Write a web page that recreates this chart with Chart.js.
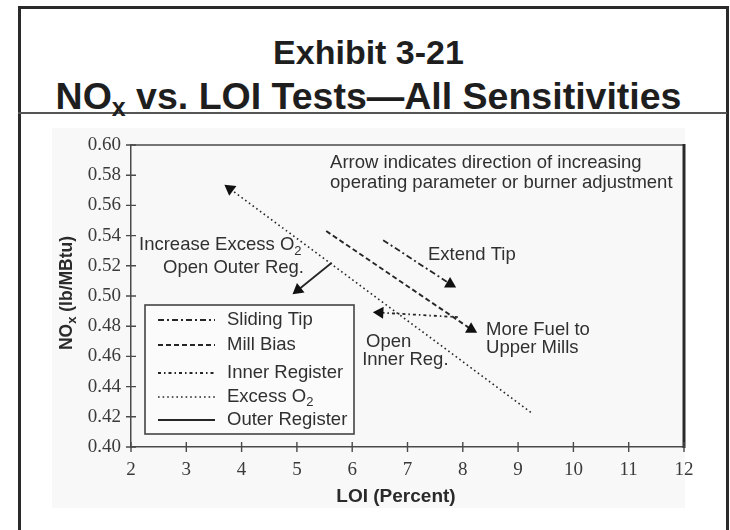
<!DOCTYPE html>
<html>
<head>
<meta charset="utf-8">
<script src="https://cdn.jsdelivr.net/npm/chart.js@4.4.1/dist/chart.umd.min.js"></script>
<style>
  body { margin: 0; background: #fff; }
  #page { position: relative; width: 730px; height: 530px; overflow: hidden; }
  #frame { position: absolute; left: 18px; top: 6px; width: 705px; height: 560px; border: 3px solid #2a2a2a; border-bottom: none; }
  #rule { position: absolute; left: 18px; top: 112px; width: 709px; height: 0; border-top: 2px solid #555; }
  .head { position: absolute; left: 14px; width: 709px; text-align: center; font-family: "Liberation Sans", Arial, sans-serif; font-weight: bold; color: #1e1e1e; white-space: nowrap; }
  #t1 { top: 33px; font-size: 34px; line-height: 38px; }
  #t2 { top: 75px; font-size: 37.5px; line-height: 42px; }
  #t2 sub { font-size: 25px; vertical-align: -7px; line-height: 0; }
  #chart { position: absolute; left: 0; top: 0; }
</style>
</head>
<body>
<div id="page">
  <div id="frame"></div>
  <div id="rule"></div>
  <div class="head" id="t1">Exhibit 3-21</div>
  <div class="head" id="t2">NO<sub>x</sub> vs. LOI Tests—All Sensitivities</div>
  <canvas id="chart" width="730" height="530"></canvas>
</div>
<script>
// LOI (%) and NOx (lb/MBtu) for each sensitivity; the last point carries the arrowhead
var seriesNames = ['Sliding Tip', 'Mill Bias', 'Inner Register', 'Excess O_2', 'Outer Register'];

var slidingTipLoi = [6.56, 7.77];
var slidingTipNox = [0.537, 0.508];

var millBiasLoi = [5.53, 8.15];
var millBiasNox = [0.543, 0.478];

var innerRegLoi = [7.91, 6.50];
var innerRegNox = [0.486, 0.489];

var excessO2Loi = [9.23, 3.79];
var excessO2Nox = [0.423, 0.571];

var outerRegLoi = [5.63, 5.02];
var outerRegNox = [0.522, 0.504];

var xTicks = [2, 3, 4, 5, 6, 7, 8, 9, 10, 11, 12];
var yTicks = [0.40, 0.42, 0.44, 0.46, 0.48, 0.50, 0.52, 0.54, 0.56, 0.58, 0.60];

// text written on the plot, anchored in data units (left edge, middle)
var noteText = ['Arrow indicates direction of increasing', 'operating parameter or burner adjustment',
  'Increase Excess O_2', 'Open Outer Reg.', 'Extend Tip', 'More Fuel to', 'Upper Mills', 'Open', 'Inner Reg.'];
var noteLoi = [5.60, 5.60, 2.145, 2.58, 7.37, 8.42, 8.42, 6.25, 6.18];
var noteNox = [0.588, 0.5752, 0.5336, 0.5189, 0.5269, 0.4777, 0.4658, 0.4698, 0.4578];

function pts(xs, ys) {
  return xs.map(function (x, i) { return { x: x, y: ys[i] }; });
}

var INK = '#262626';
var SANS = '"Liberation Sans", Arial, sans-serif';
var SERIF = '"Liberation Serif", "Times New Roman", serif';

function line(name, data, dash, rot, width) {
  return {
    label: name,
    data: data,
    showLine: true,
    borderColor: INK,
    borderWidth: width,
    borderDash: dash,
    backgroundColor: INK,
    pointRadius: [0, 7],
    pointStyle: 'triangle',
    rotation: [0, rot],
    pointBorderWidth: 0,
    pointBackgroundColor: '#111'
  };
}

// draws "Excess O_2" style text: the char after '_' becomes a subscript
function drawSub(ctx, text, x, y, size, bold) {
  var w = bold ? 'bold ' : '';
  var parts = text.split('_');
  ctx.textBaseline = 'middle';
  ctx.textAlign = 'left';
  var cx = x;
  parts.forEach(function (p, i) {
    if (i > 0) {
      ctx.font = w + Math.round(size * 0.72) + 'px ' + SANS;
      ctx.fillText(p.charAt(0), cx, y + size * 0.32);
      cx += ctx.measureText(p.charAt(0)).width;
      p = p.slice(1);
    }
    ctx.font = w + size + 'px ' + SANS;
    ctx.fillText(p, cx, y);
    cx += ctx.measureText(p).width;
  });
  return cx - x;
}

var decor = {
  id: 'decor',
  beforeDraw: function (chart) {
    var ctx = chart.ctx;
    ctx.save();
    ctx.fillStyle = '#f8f8f8';
    ctx.fillRect(52, 128, 633, 380);
    ctx.restore();
  },
  afterDraw: function (chart) {
    var ctx = chart.ctx, a = chart.chartArea;
    var xs = chart.scales.x, ys = chart.scales.y;
    ctx.save();
    ctx.strokeStyle = '#4a4a4a';
    ctx.lineWidth = 1.5;
    // top edge and heavy right edge of the plot box
    ctx.beginPath();
    ctx.moveTo(a.left, a.top); ctx.lineTo(a.right, a.top);
    ctx.stroke();
    ctx.strokeStyle = '#2a2a2a';
    ctx.lineWidth = 3;
    ctx.beginPath();
    ctx.moveTo(a.right, a.top - 1); ctx.lineTo(a.right, a.bottom + 1);
    ctx.stroke();
    // ticks crossing the axes
    ctx.strokeStyle = '#4a4a4a';
    ctx.lineWidth = 1.4;
    ctx.beginPath();
    xTicks.forEach(function (v) {
      var px = xs.getPixelForValue(v);
      ctx.moveTo(px, a.bottom - 5); ctx.lineTo(px, a.bottom + 5);
    });
    yTicks.forEach(function (v) {
      var py = ys.getPixelForValue(v);
      ctx.moveTo(a.left - 5, py); ctx.lineTo(a.left + 5, py);
    });
    ctx.stroke();

    // notes
    ctx.fillStyle = '#303030';
    noteText.forEach(function (t, i) {
      drawSub(ctx, t, xs.getPixelForValue(noteLoi[i]), ys.getPixelForValue(noteNox[i]), 18.5, false);
    });

    // legend box in the lower left of the plot
    var lx = 145, ly = 305, lw = 209, lh = 129;
    ctx.fillStyle = '#fbfbfb';
    ctx.fillRect(lx, ly, lw, lh);
    ctx.strokeStyle = '#444';
    ctx.lineWidth = 1.6;
    ctx.strokeRect(lx, ly, lw, lh);
    var rowY = [320, 345, 373, 397, 420];
    chart.data.datasets.forEach(function (ds, i) {
      ctx.strokeStyle = INK;
      ctx.lineWidth = ds.borderWidth;
      ctx.setLineDash(ds.borderDash || []);
      ctx.beginPath();
      ctx.moveTo(158, rowY[i]); ctx.lineTo(215, rowY[i]);
      ctx.stroke();
      ctx.setLineDash([]);
      ctx.fillStyle = '#303030';
      drawSub(ctx, ds.label, 227, rowY[i], 18.5, false);
    });

    // axis titles
    ctx.fillStyle = '#2a2a2a';
    ctx.font = 'bold 19px ' + SANS;
    ctx.textAlign = 'center';
    ctx.textBaseline = 'middle';
    ctx.fillText('LOI (Percent)', 396, 497);
    ctx.translate(67, (a.top + a.bottom) / 2 - 3);
    ctx.rotate(-Math.PI / 2);
    var tw;
    ctx.font = 'bold 17.5px ' + SANS;
    tw = ctx.measureText('NO').width + ctx.measureText(' (lb/MBtu)').width;
    ctx.font = 'bold 13px ' + SANS;
    tw += ctx.measureText('x').width;
    drawSub(ctx, 'NO_x (lb/MBtu)', -tw / 2, 0, 17.5, true);
    ctx.restore();
  }
};

new Chart(document.getElementById('chart'), {
  type: 'scatter',
  data: {
    datasets: [
      line(seriesNames[0], pts(slidingTipLoi, slidingTipNox), [6, 3, 2, 3], 0, 1.8),
      line(seriesNames[1], pts(millBiasLoi, millBiasNox), [5, 3], 0, 1.9),
      line(seriesNames[2], pts(innerRegLoi, innerRegNox), [3, 3, 1.5, 3], -87, 1.8),
      line(seriesNames[3], pts(excessO2Loi, excessO2Nox), [1.6, 3], -53.5, 1.6),
      line(seriesNames[4], pts(outerRegLoi, outerRegNox), [], -128.5, 1.8)
    ]
  },
  options: {
    responsive: false,
    animation: false,
    layout: { padding: { top: 145, right: 46, left: 0, bottom: 0 } },
    plugins: { legend: { display: false }, tooltip: { enabled: false } },
    scales: {
      x: {
        type: 'linear', min: 2, max: 12,
        afterFit: function (s) { s.height = 83; },
        afterBuildTicks: function (s) { s.ticks = xTicks.map(function (v) { return { value: v }; }); },
        grid: { display: false },
        border: { display: true, color: '#4a4a4a', width: 1.5 },
        ticks: { color: '#3a3a3a', padding: 4, font: { family: SERIF, size: 19 } }
      },
      y: {
        type: 'linear', min: 0.40, max: 0.60,
        afterFit: function (s) { s.width = 131; },
        afterBuildTicks: function (s) { s.ticks = yTicks.map(function (v) { return { value: v }; }); },
        grid: { display: false },
        border: { display: true, color: '#4a4a4a', width: 1.5 },
        ticks: {
          color: '#3a3a3a', padding: 2, font: { family: SERIF, size: 19 },
          callback: function (v) { return v.toFixed(2); }
        }
      }
    }
  },
  plugins: [decor]
});
</script>
</body>
</html>
